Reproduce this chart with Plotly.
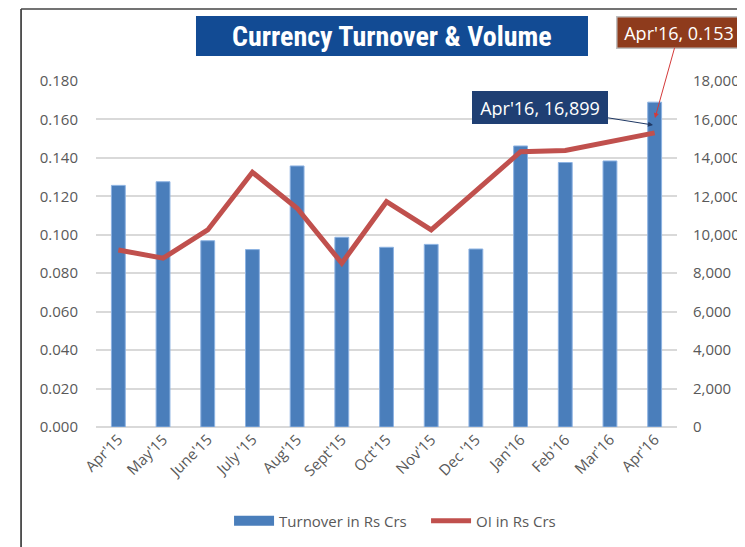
import plotly.graph_objects as go

months = ["Apr'15", "May'15", "June'15", "July '15", "Aug'15", "Sept'15", "Oct'15",
          "Nov'15", "Dec '15", "Jan'16", "Feb'16", "Mar'16", "Apr'16"]
turnover = [12570, 12760, 9690, 9230, 13580, 9870, 9350, 9500, 9260, 14620, 13760, 13840, 16899]
oi = [0.0921, 0.0878, 0.1025, 0.1325, 0.1138, 0.0852, 0.1172, 0.1025, 0.1228, 0.1432, 0.1439, 0.1484, 0.153]

left_ticks = [0, 0.02, 0.04, 0.06, 0.08, 0.10, 0.12, 0.14, 0.16, 0.18]
right_ticks = [0, 2000, 4000, 6000, 8000, 10000, 12000, 14000, 16000, 18000]

FONT = "Open Sans, Liberation Sans, sans-serif"
NARROW = "Liberation Sans Narrow, Roboto Condensed, DejaVu Sans Condensed, Open Sans, sans-serif"
GREY = "#595959"
BLUE = "#4A7EBB"
RED = "#C0504D"

fig = go.Figure()
fig.add_trace(go.Bar(
    x=months, y=turnover, name="Turnover in Rs Crs",
    marker=dict(color=BLUE, line=dict(color="#8DB3E2", width=1)),
    width=0.31, yaxis="y", showlegend=False,
))
fig.add_trace(go.Scatter(
    x=months, y=oi, name="OI in Rs Crs", mode="lines",
    line=dict(color=RED, width=5), yaxis="y2", showlegend=False,
))
# legend entries
fig.add_trace(go.Scatter(x=[None], y=[None], name="Turnover in Rs Crs", mode="lines",
                         line=dict(color=BLUE, width=10), yaxis="y"))
fig.add_trace(go.Scatter(x=[None], y=[None], name="OI in Rs Crs", mode="lines",
                         line=dict(color=RED, width=5), yaxis="y2"))

fig.update_layout(
    width=745, height=547,
    margin=dict(l=88, r=76, t=73, b=128, autoexpand=False),
    paper_bgcolor="white", plot_bgcolor="white",
    font=dict(family=FONT, color=GREY, size=15),
    showlegend=True,
    legend=dict(orientation="h", x=0.229, y=-0.272, xanchor="left", yanchor="middle",
                font=dict(size=15, color=GREY), itemwidth=40, entrywidth=142,
                traceorder="normal"),
    xaxis=dict(type="category", tickangle=-45, showgrid=False, showline=False,
               ticks="", tickfont=dict(size=15, color=GREY)),
    yaxis=dict(side="right", range=[0, 18000], tickvals=right_ticks,
               tickformat=",", showgrid=True, gridcolor="#D9D9D9", gridwidth=1.5,
               zeroline=True, zerolinecolor="#D9D9D9", zerolinewidth=2,
               tickfont=dict(size=15, color=GREY), ticklabelstandoff=15),
    yaxis2=dict(side="left", overlaying="y", range=[0, 0.18], tickvals=left_ticks,
                tickformat=".3f", showgrid=False, zeroline=False,
                tickfont=dict(size=15, color=GREY), ticklabelstandoff=17),
)

# frame lines
fig.add_shape(type="line", xref="paper", yref="paper", x0=-0.129, x1=-0.129, y0=-0.4, y1=1.2081,
              line=dict(color="#222222", width=1.5))
fig.add_shape(type="line", xref="paper", yref="paper", x0=-0.129, x1=1.2, y0=1.2081, y1=1.2081,
              line=dict(color="#444444", width=1.5))

# title box
fig.add_shape(type="rect", xref="paper", yref="paper", x0=0.1721, x1=0.8468, y0=1.0723, y1=1.1879,
              fillcolor="#124B94", line=dict(width=0))
fig.add_annotation(xref="paper", yref="paper", x=0.5095, y=1.130, xanchor="center", yanchor="middle",
                   showarrow=False,
                   text="<b>Currency Turnover &amp; Volume</b>",
                   font=dict(family=NARROW, size=28, color="white"))

# data callouts
fig.add_annotation(xref="paper", yref="paper", x=0.9587, y=0.8728,
                   ax=-113, ay=-18, showarrow=True, arrowhead=2, arrowsize=1, arrowwidth=1,
                   arrowcolor="#1F3864",
                   text=f"{months[-1]}, {turnover[-1]:,}",
                   font=dict(family=FONT, size=18, color="white"),
                   width=124, height=21,
                   bgcolor="#1F3F73", borderpad=6, borderwidth=0)
fig.add_annotation(xref="paper", yref="paper", x=0.9621, y=0.893,
                   ax=24, ay=-86, showarrow=True, arrowhead=2, arrowsize=1, arrowwidth=1,
                   arrowcolor="#D43A3A",
                   text=f"{months[-1]}, {oi[-1]:.3f}",
                   font=dict(family=FONT, size=18, color="white"),
                   width=114, height=21,
                   bgcolor="#8E3B1C", bordercolor="#BFBFBF", borderwidth=1.5, borderpad=4.5)

fig.write_html("out.html")
